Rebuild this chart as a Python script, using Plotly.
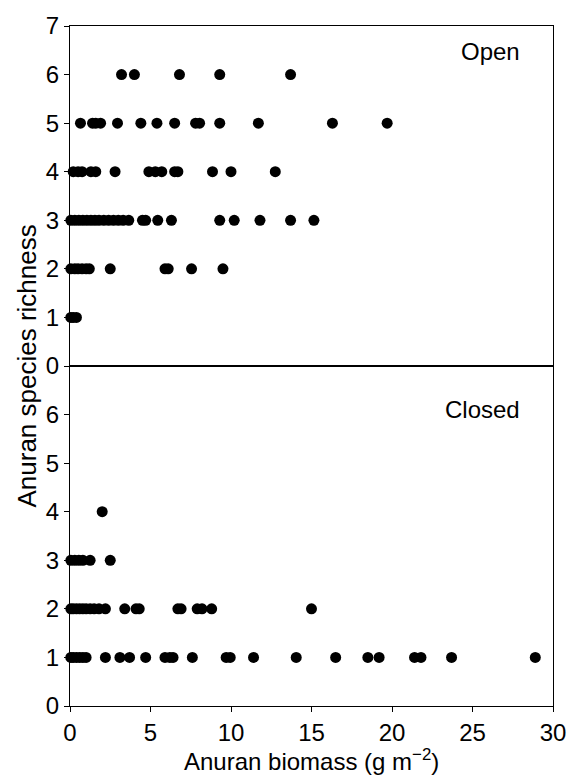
import plotly.graph_objects as go
from plotly.subplots import make_subplots

# Open canopy ponds: (biomass g m^-2, species richness)
open_biomass = [
    3.2, 4.0, 6.8, 9.3, 13.7,
    0.65, 1.4, 1.6, 1.9, 2.95, 4.4, 5.4, 6.5, 7.8, 8.05, 9.3, 11.7, 16.3, 19.7,
    0.2, 0.5, 0.75, 1.3, 1.6, 2.8, 4.9, 5.3, 5.7, 6.5, 6.7, 8.85, 10.0, 12.75,
    0.05, 0.3, 0.55, 0.8, 1.05, 1.3, 1.55, 1.8, 2.1, 2.4, 2.7, 3.0, 3.3, 3.65,
    4.5, 4.7, 5.45, 6.3, 9.3, 10.2, 11.8, 13.7, 15.15,
    0.05, 0.3, 0.5, 0.75, 1.0, 1.2, 2.5, 5.9, 6.1, 7.55, 9.5,
    0.05, 0.2, 0.4,
]
open_richness = [
    6, 6, 6, 6, 6,
    5, 5, 5, 5, 5, 5, 5, 5, 5, 5, 5, 5, 5, 5,
    4, 4, 4, 4, 4, 4, 4, 4, 4, 4, 4, 4, 4, 4,
    3, 3, 3, 3, 3, 3, 3, 3, 3, 3, 3, 3, 3, 3,
    3, 3, 3, 3, 3, 3, 3, 3, 3,
    2, 2, 2, 2, 2, 2, 2, 2, 2, 2, 2,
    1, 1, 1,
]

# Closed canopy ponds
closed_biomass = [
    2.0,
    0.05, 0.3, 0.55, 0.8, 1.25, 2.5,
    0.05, 0.2, 0.4, 0.6, 0.8, 1.0, 1.25, 1.5, 1.8, 2.2, 3.4, 4.1, 4.3, 6.7, 6.9, 7.9, 8.2, 8.8, 15.0,
    0.05, 0.2, 0.4, 0.6, 0.8, 1.0, 2.2, 3.1, 3.7, 4.7, 5.9, 6.2, 6.4, 7.6, 9.7, 9.95,
    11.4, 14.05, 16.5, 18.5, 19.2, 21.4, 21.8, 23.7, 28.9,
]
closed_richness = [
    4,
    3, 3, 3, 3, 3, 3,
    2, 2, 2, 2, 2, 2, 2, 2, 2, 2, 2, 2, 2, 2, 2, 2, 2, 2, 2,
    1, 1, 1, 1, 1, 1, 1, 1, 1, 1, 1, 1, 1, 1, 1, 1,
    1, 1, 1, 1, 1, 1, 1, 1, 1,
]

x_ticks = [0, 5, 10, 15, 20, 25, 30]
top_y_ticks = [0, 1, 2, 3, 4, 5, 6, 7]
bottom_y_ticks = [0, 1, 2, 3, 4, 5, 6]

FONT = "Liberation Sans, Arial, Helvetica, sans-serif"
TICK_FS = 24

fig = make_subplots(rows=2, cols=1, shared_xaxes=True, vertical_spacing=0)

marker = dict(color="black", size=11, line=dict(width=0))
fig.add_trace(go.Scatter(x=open_biomass, y=open_richness, mode="markers",
                         marker=marker, showlegend=False, cliponaxis=False), row=1, col=1)
fig.add_trace(go.Scatter(x=closed_biomass, y=closed_richness, mode="markers",
                         marker=marker, showlegend=False, cliponaxis=False), row=2, col=1)

axis_common = dict(showline=True, linecolor="black", linewidth=1.3, mirror=True,
                   showgrid=False, zeroline=False,
                   tickfont=dict(family=FONT, size=TICK_FS, color="black"))

fig.update_xaxes(range=[0, 30], tickvals=x_ticks, ticks="outside", ticklen=5,
                 tickcolor="black", **axis_common)
fig.update_xaxes(showticklabels=False, ticks="", row=1, col=1)

fig.update_yaxes(range=[0, 7], ticks="outside", ticklen=5, tickcolor="black", **axis_common)
fig.update_yaxes(tickvals=top_y_ticks, row=1, col=1)
fig.update_yaxes(tickvals=bottom_y_ticks, row=2, col=1)

fig.add_annotation(text="Open", xref="x", yref="y", x=28.1, y=6.47, xanchor="right",
                   yanchor="middle", showarrow=False,
                   font=dict(family=FONT, size=24, color="black"))
fig.add_annotation(text="Closed", xref="x2", yref="y2", x=28.1, y=6.1, xanchor="right",
                   yanchor="middle", showarrow=False,
                   font=dict(family=FONT, size=24, color="black"))
fig.add_annotation(text="Anuran species richness", xref="paper", yref="paper",
                   x=-0.09, y=0.5, xanchor="center", yanchor="middle", textangle=-90,
                   showarrow=False, font=dict(family=FONT, size=26, color="black"))
fig.add_annotation(text="Anuran biomass (g m<sup>−2</sup>)", xref="paper", yref="paper",
                   x=0.5, y=-0.08, xanchor="center", yanchor="middle",
                   showarrow=False, font=dict(family=FONT, size=24, color="black"))

fig.update_layout(width=578, height=779, paper_bgcolor="white", plot_bgcolor="white",
                  margin=dict(l=70, r=18, t=20, b=73))

fig.write_html("out.html", config={"displayModeBar": False},
               post_script="document.body.style.margin='0';document.body.style.padding='0';"
                           "document.body.style.overflow='hidden';")
